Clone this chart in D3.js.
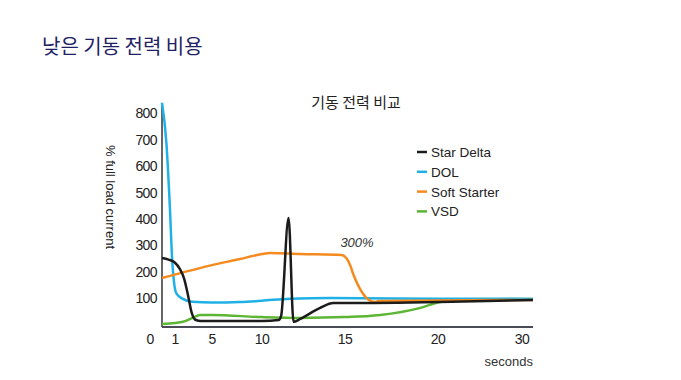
<!DOCTYPE html>
<html>
<head>
<meta charset="utf-8">
<script src="https://cdn.jsdelivr.net/npm/d3@7"></script>
<style>
  body { margin: 0; background: #fff; }
  svg { display: block; }
  text { font-family: "Liberation Sans", Arial, sans-serif; }
  .ko { font-family: "Noto Sans CJK KR", "Noto Sans", sans-serif; }
</style>
</head>
<body>
<svg id="chart" width="681" height="380"></svg>
<script>
// tick labels
var xTicks = [0, 1, 5, 10, 15, 20, 30];
var yTicks = [100, 200, 300, 400, 500, 600, 700, 800];

// series [seconds, % full load current]
var starDelta = [[0,252],[0.5,246],[1,234],[1.5,212],[2.0,172],[2.4,112],[2.8,45],[3.2,18],[3.8,13],
  [5,13],[10,13],[11,17],[11.15,32],[11.6,403],[11.9,10],[12.3,21],[13.5,63],[14.3,81],[15,81],[20.2,85],[31.3,93]];
var dol = [[0,840],[0.35,680],[0.6,450],[0.8,230],[0.95,150],[1.15,118],[1.8,98],[2.85,86],[5,83],[7.8,85],
  [10,90],[11.7,98],[14.1,100],[20,98],[31.3,97]];
var softStarter = [[0,176],[5,225],[7.8,248],[10,267],[10.5,271],[12.3,267],[14.8,263],[15.3,221],[15.4,199],
  [16.6,85],[16.8,89],[31.3,93]];
var vsd = [[0,2],[1,6],[2.1,13],[2.9,25],[3.7,36],[5,36],[10,28],[12.3,25],[15,28],[16.9,36],[19,62],
  [20.2,85],[22.6,93],[31.3,97]];

var seriesNames = ["Star Delta", "DOL", "Soft Starter", "VSD"];
var seriesData = [starDelta, dol, softStarter, vsd];
var colors = ["#1c1c1c", "#1fb1e6", "#f58a1f", "#5db536"];

var svg = d3.select("#chart");

// x axis is not linear in the source picture, so map tick to tick
var x = d3.scaleLinear()
  .domain([0, 1, 5, 10, 15, 20, 30, 31.3])
  .range([162, 175, 212, 262, 345, 438, 522, 533]);
var y = d3.scaleLinear().domain([0, 800]).range([324.5, 113.3]);

svg.append("text").attr("class", "ko")
  .attr("x", 42).attr("y", 54)
  .attr("font-size", 20).attr("fill", "#1f2165")
  .text("낮은 기동 전력 비용");

svg.append("text").attr("class", "ko")
  .attr("x", 356).attr("y", 108).attr("text-anchor", "middle")
  .attr("font-size", 15).attr("fill", "#222")
  .text("기동 전력 비교");

// axis lines
svg.append("line")
  .attr("x1", x(0)).attr("x2", x(0))
  .attr("y1", 106).attr("y2", 327)
  .attr("stroke", "#666").attr("stroke-width", 2);
svg.append("line")
  .attr("x1", x(0)).attr("x2", x(31.3))
  .attr("y1", 327).attr("y2", 327)
  .attr("stroke", "#4b4b58").attr("stroke-width", 2);

svg.selectAll(".ytick").data(yTicks).enter().append("text")
  .attr("x", 157).attr("y", function(d) { return y(d) + 5; })
  .attr("text-anchor", "end").attr("font-size", 14).attr("fill", "#222")
  .attr("letter-spacing", -0.6)
  .text(function(d) { return d; });

svg.selectAll(".xtick").data(xTicks).enter().append("text")
  .attr("x", function(d) { return d === 0 ? x(d) - 12 : x(d); })
  .attr("y", 344)
  .attr("text-anchor", "middle").attr("font-size", 14).attr("fill", "#222")
  .attr("letter-spacing", -0.6)
  .text(function(d) { return d; });

svg.append("text")
  .attr("x", 533).attr("y", 366).attr("text-anchor", "end")
  .attr("font-size", 13).attr("fill", "#333")
  .text("seconds");

svg.append("text")
  .attr("transform", "translate(106,197) rotate(90)")
  .attr("text-anchor", "middle").attr("font-size", 13).attr("fill", "#222")
  .text("% full load current");

var line = d3.line()
  .x(function(d) { return x(d[0]); })
  .y(function(d) { return y(d[1]); })
  .curve(d3.curveMonotoneX);

// draw order: green, blue, orange, black on top
[3, 1, 2, 0].forEach(function(i) {
  svg.append("path")
    .datum(seriesData[i])
    .attr("d", line)
    .attr("fill", "none")
    .attr("stroke", colors[i])
    .attr("stroke-width", 2.5)
    .attr("stroke-linejoin", "round");
});

svg.append("text")
  .attr("x", 357).attr("y", 247).attr("text-anchor", "middle")
  .attr("font-size", 13).attr("font-style", "italic").attr("fill", "#333")
  .text("300%");

var legend = svg.selectAll(".leg").data(seriesNames).enter().append("g")
  .attr("transform", function(d, i) { return "translate(417," + (152 + i * 19.8) + ")"; });
legend.append("line")
  .attr("x1", 0).attr("x2", 10)
  .attr("stroke", function(d, i) { return colors[i]; })
  .attr("stroke-width", 2.5);
legend.append("text")
  .attr("x", 14).attr("y", 5)
  .attr("font-size", 13.5).attr("fill", "#222")
  .text(function(d) { return d; });
</script>
</body>
</html>
